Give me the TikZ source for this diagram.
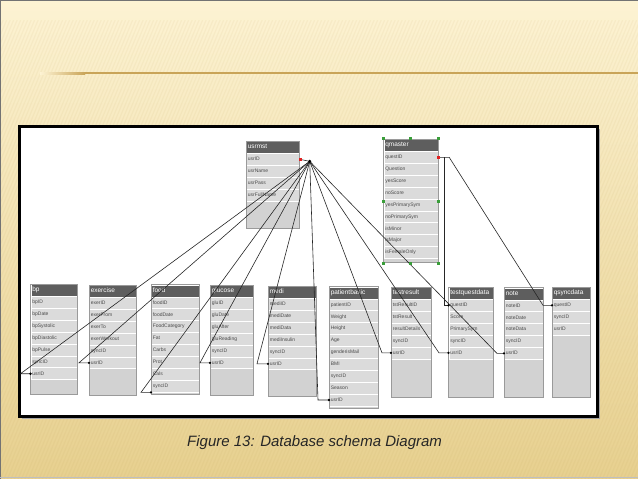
\documentclass[tikz,border=0pt]{standalone}
\usepackage{fontspec}
\setmainfont{Liberation Sans}
\definecolor{bgtop}{HTML}{FDF3D3}
\definecolor{bgmid}{HTML}{F4E3AE}
\definecolor{bgbot}{HTML}{E7D08F}
\definecolor{goldline}{HTML}{C9A458}
\definecolor{stripe}{HTML}{B89A50}
\definecolor{hdrgray}{HTML}{5E5E5E}
\definecolor{rowgray}{HTML}{DBDBDB}
\definecolor{bodygray}{HTML}{D2D2D2}
\definecolor{edgegray}{HTML}{9A9A9A}
\definecolor{txtgray}{HTML}{4A4A4A}
\definecolor{selgreen}{HTML}{3A9E3A}
\definecolor{markred}{HTML}{E02020}
\tikzset{
  tabbody/.style={fill=bodygray},
  tabedge/.style={draw=edgegray, line width=0.6},
  hdr/.style={fill=hdrgray, draw=white, line width=0.5, text=white, inner xsep=1.5pt, inner ysep=0pt,
    minimum height=12pt, text height=4.6pt, text depth=1.4pt, align=left,
    font=\fontsize{6.5}{7.5}\selectfont},
  rowbox/.style={fill=rowgray, draw=white, line width=0.7, text=txtgray, inner xsep=1.5pt, inner ysep=0pt,
    minimum height=11.9pt, text height=3.7pt, text depth=1.1pt, align=left,
    font=\fontsize{5}{6}\selectfont},
  conn/.style={draw=black!85, line width=0.6},
  handle/.style={fill=selgreen},
}
\newcommand{\dbtab}[6]{%
  \pgfmathsetmacro\tabtw{#4-3}%
  \fill[tabbody] (#2,#3) rectangle ({#2+#4},#5);
  \node[hdr, text width=\tabtw pt, anchor=north west] (#1) at (#2,#3) {\mbox{#1}};
  \foreach \r [count=\i] in {#6} {
    \node[rowbox, text width=\tabtw pt, anchor=north west] (#1-\i) at (#2,{#3+12+(\i-1)*11.9}) {\mbox{\r}};
  }
  \draw[tabedge] (#2,#3) rectangle ({#2+#4},#5);
}
\begin{document}
\begin{tikzpicture}[x=1pt,y=-1pt]
\useasboundingbox (0,0) rectangle (638,479);
% background
\shade[top color=bgtop, middle color=bgmid, bottom color=bgbot] (0,0) rectangle (638,479);
\begin{scope}
  \clip (0,20) rectangle (638,479);
  \foreach \sx in {-220,-216.5,...,640}
    \draw[stripe, opacity=0.07, line width=1.2] (\sx,479) -- ({\sx+200},0);
\end{scope}
\shade[left color=bgtop, right color=goldline] (40,72.4) rectangle (85,74);
\fill[goldline] (85,72.4) rectangle (638,74);
\draw[black!55, line width=1.5] (0.7,479) -- (0.7,0.7) -- (638,0.7);
\draw[black!25, line width=1] (0,477.5) -- (638,477.5);
% panel
\fill[black!35] (21.5,128.5) rectangle (599.5,418.5);
\draw[black, line width=2.2, fill=white] (19.5,126.5) rectangle (597.5,416.5);
% tables
\dbtab{usrmst}{246}{141}{53}{228}{usrID,usrName,usrPass,usrFullName}
\dbtab{qmaster}{383.5}{139}{54.5}{262}{questID,Question,yesScore,noScore,yesPrimarySym,noPrimarySym,isMinor,isMajor,isFemaleOnly}
\dbtab{bp}{30.5}{284}{47}{394}{bpID,bpDate,bpSystolic,bpDiastolic,bpPulse,syncID,usrID}
\dbtab{exercise}{89}{285}{47}{395}{exerID,exerFrom,exerTo,exerWorkout,syncID,usrID}
\dbtab{food}{151}{284.5}{48}{394}{foodID,foodDate,FoodCategory,Fat,Carbs,Prot,Cals,syncID}
\dbtab{glucose}{210}{285}{43.5}{395}{gluID,gluDate,gluAfter,gluReading,syncID,usrID}
\dbtab{medi}{268}{286}{48.5}{396}{mediID,mediDate,mediData,mediInsulin,syncID,usrID}
\dbtab{patientbasic}{329}{286.5}{49.5}{408}{patientID,Weight,Height,Age,genderisMail,BMI,syncID,Season,usrID}
\dbtab{testresult}{391}{287}{40.5}{397}{tstResultID,tstResult,resultDetails,syncID,usrID}
\dbtab{testquestdata}{448.5}{287}{45}{397}{questID,Score,PrimarySym,syncID,usrID}
\dbtab{note}{504}{287.5}{39.5}{397}{noteID,noteDate,noteData,syncID,usrID}
\dbtab{qsyncdata}{552}{287}{38.5}{397}{questID,syncID,usrID}
% connectors from usrmst.usrID
\coordinate (J) at ([xshift=10,yshift=-2]usrmst-1.east);
\draw[conn] (usrmst-1.east) -- (J);
\draw[conn] (J) -- ([xshift=-10]bp-7.west) -- (bp-7.west);
\draw[conn] (J) -- ([xshift=-10]exercise-6.west) -- (exercise-6.west);
\draw[conn] (J) -- ([xshift=-10]food-8.south west) -- (food-8.south west);
\draw[conn] (J) -- ([xshift=-10]glucose-6.west) -- (glucose-6.west);
\draw[conn] (J) -- ([xshift=-11]medi-6.west) -- (medi-6.west);
\draw[conn] (J) -- ([xshift=-11]patientbasic-9.west) -- (patientbasic-9.west);
\draw[conn] (J) -- ([xshift=-9]testresult-5.west) -- (testresult-5.west);
\draw[conn] (J) -- ([xshift=-9.5]testquestdata-5.west) -- (testquestdata-5.west);
\draw[conn] (J) -- ([xshift=-7]note-5.west) -- (note-5.west);
% connectors from qmaster.questID
\coordinate (Q) at ([xshift=10.5]qmaster-1.east);
\coordinate (V) at ([xshift=5.5]qmaster-1.east);
\draw[conn] (qmaster-1.east) -- (Q) -- ([xshift=-9]qsyncdata-1.west) -- (qsyncdata-1.west);
\draw[conn] (V) -- (V |- testquestdata-1.west) -- (testquestdata-1.west);
% end dots
\foreach \e in {bp-7.west,exercise-6.west,food-8.south west,glucose-6.west,medi-6.west,patientbasic-9.west,testresult-5.west,testquestdata-5.west,note-5.west,qsyncdata-1.west,testquestdata-1.west}
  \fill[black] (\e) circle[radius=1.3];
\fill[black] (J) circle[radius=1.6];
% red source markers
\fill[markred] ([xshift=1]usrmst-1.east) +(-1.3,-1.3) rectangle +(1.3,1.3);
\fill[markred] (qmaster-1.east) +(-1.3,-1.3) rectangle +(1.3,1.3);
% selection handles on qmaster
\foreach \hx/\hy in {383.5/138,410.75/138,438/138,383.5/201,438/201,383.5/263.5,410.75/263.5,438/263.5}
  \fill[handle] (\hx,\hy) +(-1.5,-1.5) rectangle +(1.5,1.5);
% caption
\node[anchor=base west, inner sep=0pt, text=black!85, font=\fontsize{15}{18}\selectfont\itshape] (cap) at (187,446) {Figure 13: Database schema Diagram};
\end{tikzpicture}
\end{document}
